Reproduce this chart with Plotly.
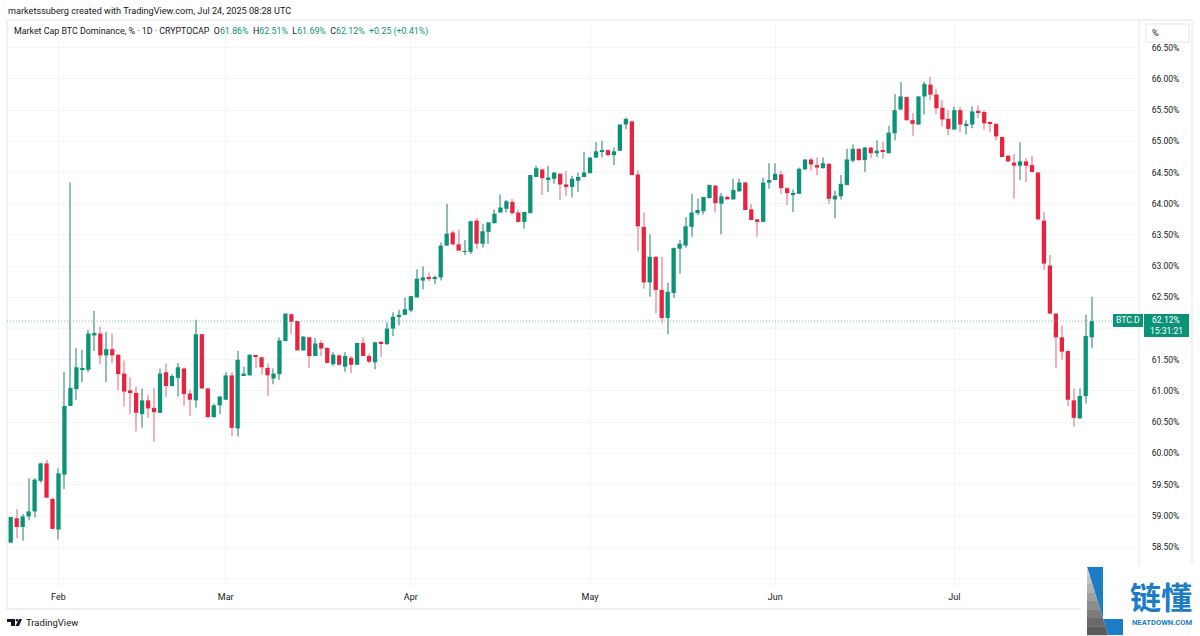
import pandas as pd
import plotly.graph_objects as go

# BTC.D daily candles, Jan 24 - Jul 24 2025
opens = [58.57, 58.96, 58.82, 58.99, 59.07, 59.56, 59.84, 59.27,
         58.78, 59.66, 60.76, 61.03, 61.35, 61.34, 61.89, 61.92, 61.57, 61.67, 61.58, 61.28, 61.01, 60.97, 60.63, 60.85, 60.73, 60.65, 61.30, 61.08, 61.21, 61.36, 60.96, 60.85, 61.91, 61.04, 60.58, 60.77,
         60.86, 61.25, 60.40, 61.25, 61.25, 61.57, 61.54, 61.37, 61.20, 61.27, 61.80, 62.23, 62.12, 61.65, 61.86, 61.56, 61.77, 61.69, 61.43, 61.57, 61.39, 61.53, 61.42, 61.77, 61.56, 61.46, 61.79, 61.75, 62.00, 62.19, 62.22,
         62.29, 62.50, 62.77, 62.82, 62.80, 62.82, 63.33, 63.54, 63.35, 63.23, 63.23, 63.73, 63.36, 63.55, 63.69, 63.86, 63.92, 64.03, 63.86, 63.71, 63.85, 64.43, 64.55, 64.39, 64.40, 64.48, 64.31, 64.27, 64.37, 64.43,
         64.49, 64.74, 64.84, 64.86, 64.78, 64.85, 65.27, 65.32, 64.47, 63.63, 62.74, 63.15, 62.62, 62.17, 62.57, 63.28, 63.33, 63.63, 63.85, 63.88, 64.09, 64.29, 64.00, 64.11, 64.07, 64.20, 64.34, 63.91, 63.75, 63.71, 64.34,
         64.38, 64.47, 64.25, 64.15, 64.16, 64.55, 64.71, 64.62, 64.57, 64.64, 64.07, 64.12, 64.30, 64.69, 64.88, 64.70, 64.90, 64.81, 64.86, 64.81, 65.13, 65.51, 65.71, 65.34, 65.27, 65.72, 65.91, 65.75, 65.54, 65.36,
         65.19, 65.50, 65.25, 65.27, 65.49, 65.47, 65.31, 65.28, 65.07, 64.77, 64.66, 64.61, 64.68, 64.62, 64.50, 63.73, 63.01, 62.24, 61.86, 61.64, 60.85, 60.56, 60.92, 61.86]
highs = [58.98, 59.11, 59.03, 59.60, 59.60, 59.85, 59.90, 59.29,
         59.76, 61.31, 64.34, 61.69, 61.66, 61.98, 62.28, 62.03, 61.95, 61.92, 61.59, 61.49, 61.22, 61.07, 61.04, 60.94, 61.05, 61.36, 61.44, 61.27, 61.45, 61.38, 61.02, 62.14, 61.91, 61.05, 60.80, 60.92,
         61.30, 61.30, 61.64, 61.39, 61.59, 61.58, 61.55, 61.44, 61.36, 61.86, 62.24, 62.24, 62.13, 61.88, 61.87, 61.85, 61.81, 61.70, 61.62, 61.59, 61.62, 61.56, 61.77, 61.86, 61.60, 61.79, 61.79, 62.10, 62.26, 62.30, 62.50,
         62.52, 62.95, 63.00, 62.90, 62.85, 63.38, 64.00, 63.57, 63.58, 63.42, 63.73, 63.77, 63.68, 63.71, 63.91, 64.15, 64.06, 64.08, 63.91, 63.87, 64.46, 64.61, 64.56, 64.61, 64.51, 64.49, 64.53, 64.45, 64.50, 64.83,
         64.75, 64.99, 65.01, 64.87, 64.90, 65.27, 65.38, 65.33, 64.54, 63.86, 63.51, 63.16, 63.15, 62.73, 63.30, 63.42, 63.79, 64.16, 64.08, 64.11, 64.31, 64.30, 64.17, 64.13, 64.40, 64.40, 64.35, 64.00, 63.76, 64.42, 64.65,
         64.65, 64.53, 64.26, 64.23, 64.58, 64.71, 64.73, 64.74, 64.74, 64.65, 64.21, 64.46, 64.88, 64.95, 64.89, 64.91, 64.91, 65.02, 64.99, 65.25, 65.76, 65.95, 65.72, 65.45, 65.73, 65.96, 66.03, 65.84, 65.66, 65.50,
         65.56, 65.55, 65.34, 65.56, 65.58, 65.50, 65.32, 65.29, 65.08, 64.78, 64.80, 64.98, 64.73, 64.77, 64.51, 63.87, 63.18, 62.25, 62.05, 61.65, 61.04, 61.04, 62.22, 62.51]
lows = [58.57, 58.64, 58.60, 58.93, 58.97, 59.53, 59.29, 58.79,
        58.62, 59.43, 60.76, 60.86, 61.14, 61.30, 61.64, 61.43, 61.15, 61.45, 61.01, 60.75, 60.63, 60.35, 60.41, 60.57, 60.19, 60.65, 60.90, 61.07, 60.91, 60.76, 60.60, 60.73, 61.04, 60.58, 60.58, 60.63,
        60.86, 60.28, 60.27, 61.25, 61.25, 61.37, 61.26, 60.92, 61.11, 61.18, 61.80, 61.91, 61.65, 61.65, 61.37, 61.56, 61.56, 61.45, 61.40, 61.41, 61.31, 61.29, 61.42, 61.56, 61.45, 61.35, 61.55, 61.74, 61.88, 62.05, 62.22,
        62.26, 62.50, 62.63, 62.76, 62.71, 62.77, 63.33, 63.33, 63.25, 63.18, 63.20, 63.28, 63.30, 63.36, 63.68, 63.86, 63.86, 63.82, 63.70, 63.60, 63.85, 64.43, 64.14, 64.19, 64.32, 64.06, 64.13, 64.10, 64.19, 64.43,
        64.49, 64.74, 64.74, 64.77, 64.62, 64.85, 65.20, 64.46, 63.24, 62.64, 62.51, 62.24, 62.08, 61.91, 62.49, 62.88, 63.30, 63.47, 63.82, 63.83, 64.09, 63.86, 63.51, 64.07, 64.07, 64.19, 63.90, 63.74, 63.47, 63.71, 64.24,
        64.38, 64.16, 63.98, 63.87, 64.16, 64.55, 64.53, 64.46, 64.57, 64.00, 63.77, 64.07, 64.30, 64.66, 64.69, 64.51, 64.73, 64.75, 64.72, 64.81, 65.02, 65.51, 65.33, 65.09, 65.27, 65.43, 65.66, 65.44, 65.24, 65.10,
        65.19, 65.15, 65.11, 65.21, 65.37, 65.19, 65.15, 65.02, 64.75, 64.67, 64.08, 64.38, 64.35, 64.50, 63.74, 62.94, 62.24, 61.37, 61.50, 60.76, 60.43, 60.56, 60.80, 61.69]
closes = [58.98, 58.82, 58.99, 59.07, 59.58, 59.84, 59.29, 58.79,
          59.68, 60.76, 61.05, 61.38, 61.37, 61.92, 61.93, 61.57, 61.67, 61.57, 61.27, 60.99, 60.98, 60.65, 60.85, 60.72, 60.66, 61.28, 61.08, 61.24, 61.38, 60.95, 60.86, 61.91, 61.04, 60.58, 60.77, 60.91,
          61.25, 60.41, 61.50, 61.28, 61.58, 61.56, 61.38, 61.25, 61.28, 61.81, 62.24, 62.11, 61.65, 61.87, 61.56, 61.76, 61.68, 61.45, 61.58, 61.42, 61.56, 61.42, 61.77, 61.56, 61.47, 61.78, 61.76, 62.00, 62.19, 62.22, 62.31,
          62.52, 62.80, 62.82, 62.80, 62.82, 63.33, 63.52, 63.35, 63.25, 63.24, 63.72, 63.36, 63.56, 63.70, 63.84, 63.94, 64.04, 63.85, 63.71, 63.87, 64.46, 64.57, 64.41, 64.42, 64.50, 64.31, 64.27, 64.40, 64.43, 64.50,
          64.74, 64.84, 64.86, 64.78, 64.84, 65.27, 65.36, 64.46, 63.64, 62.74, 63.15, 62.62, 62.17, 62.59, 63.29, 63.36, 63.64, 63.86, 63.90, 64.11, 64.30, 64.01, 64.12, 64.07, 64.22, 64.34, 63.90, 63.74, 63.71, 64.34, 64.38,
          64.48, 64.25, 64.17, 64.17, 64.56, 64.71, 64.63, 64.58, 64.65, 64.08, 64.13, 64.32, 64.71, 64.88, 64.70, 64.90, 64.81, 64.85, 64.84, 65.14, 65.50, 65.72, 65.34, 65.28, 65.72, 65.92, 65.75, 65.53, 65.35, 65.20,
          65.50, 65.27, 65.28, 65.48, 65.46, 65.29, 65.28, 65.08, 64.75, 64.68, 64.61, 64.68, 64.61, 64.51, 63.75, 63.04, 62.24, 61.86, 61.63, 60.86, 60.57, 60.92, 61.88, 62.12]

month_ticks = ["2025-02-01", "2025-03-01", "2025-04-01", "2025-05-01", "2025-06-01", "2025-07-01"]
month_labels = ["Feb", "Mar", "Apr", "May", "Jun", "Jul"]
# 58.00% and 62.00% sit under the logo and the price tag in the reference, so only their gridlines show
y_ticks = [58.0, 58.5, 59.0, 59.5, 60.0, 60.5, 61.0, 61.5, 62.0, 62.5, 63.0, 63.5, 64.0, 64.5, 65.0, 65.5, 66.0, 66.5]
y_labels = ["", "58.50%", "59.00%", "59.50%", "60.00%", "60.50%", "61.00%", "61.50%", "", "62.50%",
            "63.00%", "63.50%", "64.00%", "64.50%", "65.00%", "65.50%", "66.00%", "66.50%"]
last_price = 62.12

green = '#0b9378'
red = '#e9233f'
green_wick = '#8fbfb3'
red_wick = '#efb2ba'
grid = '#f3f4f7'
border = '#e3e5ea'
text_dark = '#131722'
logo_blue = '#1c7cc6'
font_ui = 'Roboto'

W, H = 1200, 636
L, R, T, B = 7, 1139, 20, 587

def xp(px):
    return (px - L) / (R - L)

def yp(py):
    return (B - py) / (B - T)

dates = pd.date_range("2025-01-24", periods=len(opens), freq="D")
up = [c >= o for o, c in zip(opens, closes)]
day_ms = 86400000

fig = go.Figure()
# wicks first, bodies on top: wick colour is lighter than body so one candlestick trace can't do it
fig.add_trace(go.Bar(x=dates, base=lows, y=[h - l for h, l in zip(highs, lows)],
                     width=day_ms * 0.17,
                     marker=dict(color=[green_wick if u else red_wick for u in up], line_width=0),
                     hoverinfo='skip'))
fig.add_trace(go.Bar(x=dates, base=[min(o, c) for o, c in zip(opens, closes)],
                     y=[abs(c - o) for o, c in zip(opens, closes)],
                     width=day_ms * 0.72,
                     marker=dict(color=[green if u else red for u in up], line_width=0)))

shapes = []

def rect(x0, y0, x1, y1, fill=None, line=None, layer='above'):
    shapes.append(dict(type='rect', xref='paper', yref='paper', x0=xp(x0), x1=xp(x1), y0=yp(y0), y1=yp(y1),
                       fillcolor=fill or 'rgba(0,0,0,0)', line=dict(color=line or 'rgba(0,0,0,0)', width=1 if line else 0),
                       layer=layer))

def poly(points, fill):
    d = "M " + " L ".join(f"{xp(a):.5f},{yp(b):.5f}" for a, b in points) + " Z"
    shapes.append(dict(type='path', xref='paper', yref='paper', path=d, fillcolor=fill, line_width=0, layer='above'))

# chart frame
rect(7, 20, 1192, 609, line=border, layer='below')
shapes.append(dict(type='line', xref='paper', yref='paper', x0=1, x1=1, y0=yp(20), y1=yp(609),
                   line=dict(color=border, width=1), layer='below'))
# last price line
shapes.append(dict(type='line', xref='paper', yref='y', x0=0, x1=xp(1113), y0=last_price, y1=last_price,
                   line=dict(color='#4fb3a0', width=0.8, dash='1px,2px'), layer='above'))
# % button
rect(1146, 24, 1189, 42, fill='white', line=border)
# price tags
rect(1113, 314, 1143, 327, fill=green)
rect(1144, 314, 1189, 337, fill=green)

# logo block bottom right
rect(1081, 565, 1200, 636, fill='white')
poly([(1087, 567), (1103, 567), (1103, 619), (1123, 619), (1123, 635), (1108, 635)], logo_blue)
greys = ['#d2d2d2', '#c2c2c2', '#b0b0b0', '#9e9e9e', '#8c8c8c', '#7b7b7b', '#6a6a6a', '#5c5c5c']
step = 68 / len(greys)
for i, g in enumerate(greys):
    y0 = 567 + i * step
    y1 = y0 + step + 0.3
    poly([(1087, y0), (1087 + (y0 - 567) * 21 / 68, y0), (1087 + (y1 - 567) * 21 / 68, y1), (1087, y1)], g)

# TradingView mark
poly([(7, 619), (15, 619), (15, 626), (11, 626), (11, 622), (7, 622)], '#131722')
poly([(19, 619), (22, 619), (19, 626), (15.5, 626)], '#131722')
shapes.append(dict(type='circle', xref='paper', yref='paper', x0=xp(15.6), x1=xp(18.2), y0=yp(619), y1=yp(621.6),
                   fillcolor='#131722', line_width=0, layer='above'))

def label(px, py, text, size=10, color=text_dark, anchor='left', family=font_ui):
    fig.add_annotation(xref='paper', yref='paper', x=xp(px), y=yp(py), text=text, showarrow=False,
                       xanchor=anchor, yanchor='middle', align=anchor, borderpad=0,
                       font=dict(family=family, size=size, color=color))

def val(s):
    return f'<span style="color:{green}">{s}</span>'

label(7, 10.5, "marketssuberg created with TradingView.com, Jul 24, 2025 08:28 UTC", size=9.15)
label(13, 31, "Market Cap BTC Dominance, % · 1D · CRYPTOCAP  O" + val("61.86%") + "  H" + val("62.51%")
      + "  L" + val("61.69%") + "  C" + val("62.12%") + "  " + val("+0.25 (+0.41%)"), size=8.85)
label(25, 622.5, "TradingView", size=9.5)
label(1155, 33, "%", size=9, anchor='center')
label(1128, 320.5, "BTC.D", size=8.6, color='white', anchor='center')
label(1166, 320.5, "62.12%", size=8.6, color='white', anchor='center')
label(1166, 331, "15:31:21", size=8.6, color='white', anchor='center')
label(1161, 595, "<b>链懂</b>", size=31, color=logo_blue, anchor='center', family='Noto Sans CJK SC')
label(1162.5, 622, "<b>NEATDOWN.COM</b>", size=7.6, color=logo_blue, anchor='center')

fig.update_layout(
    width=W, height=H,
    margin=dict(l=L, r=W - R, t=T, b=H - B),
    paper_bgcolor='white', plot_bgcolor='white',
    showlegend=False, barmode='overlay', shapes=shapes,
    font=dict(family=font_ui, size=9, color=text_dark),
)
fig.update_xaxes(type='date',
                 range=[dates[0] - pd.Timedelta(days=0.62), dates[-1] + pd.Timedelta(days=7.92)],
                 tickvals=month_ticks, ticktext=month_labels,
                 ticks='outside', ticklen=1, tickcolor='rgba(0,0,0,0)',
                 showgrid=True, gridcolor=grid, gridwidth=1, zeroline=False, showline=False)
fig.update_yaxes(side='right', range=[57.859, 66.945],
                 tickvals=y_ticks, ticktext=y_labels, tickfont=dict(size=8.5),
                 ticks='outside', ticklen=10, tickcolor='rgba(0,0,0,0)',
                 showgrid=True, gridcolor=grid, gridwidth=1, zeroline=False, showline=False)

# default page margin would shift the 1200x636 figure
fig.write_html("out.html", config={'displayModeBar': False}, post_script="document.body.style.margin='0';")
